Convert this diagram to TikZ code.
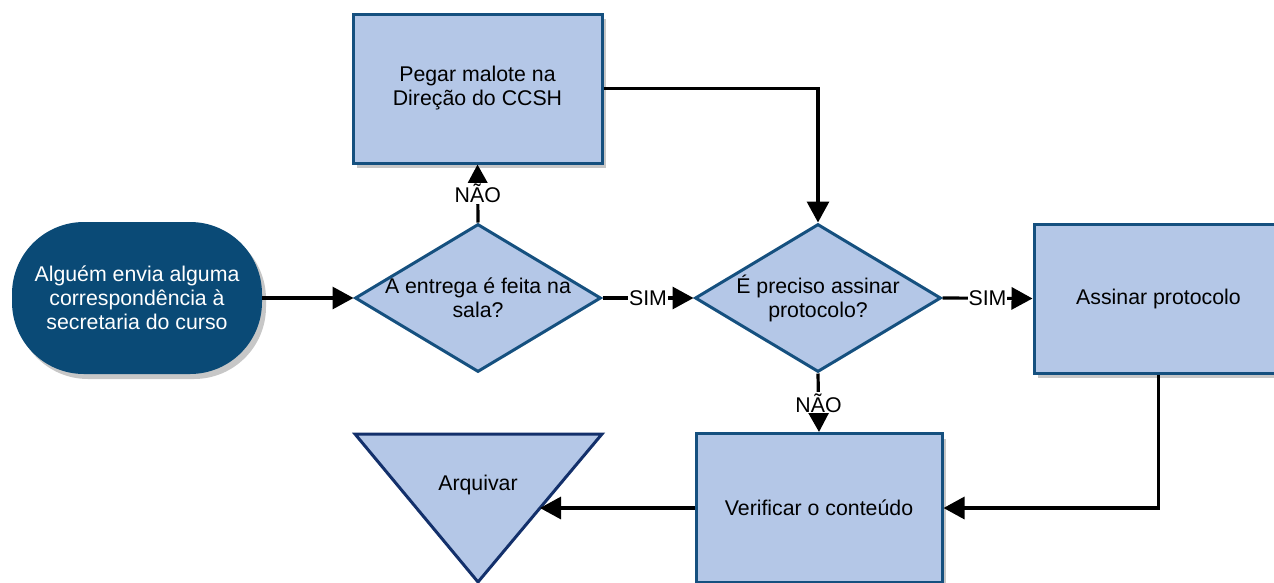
\documentclass[tikz,border=0pt]{standalone}
\usepackage{fontspec}
\setmainfont{Liberation Sans}
\usetikzlibrary{arrows.meta,shadows,shapes.geometric,calc}
\definecolor{boxfill}{HTML}{B4C7E7}
\definecolor{boxdraw}{HTML}{15507F}
\definecolor{startfill}{HTML}{0A4A76}
\definecolor{tridraw}{HTML}{13306B}
\begin{document}
\begin{tikzpicture}[x=1pt,y=-1pt,
  font=\fontsize{21.3}{24}\selectfont,
  shad/.style={drop shadow={shadow xshift=4pt, shadow yshift=-5pt, fill=black, opacity=0.22}},
  procbox/.style={draw=boxdraw, fill=boxfill, line width=3pt, minimum width=249pt, minimum height=149pt, align=center, shad},
  startbox/.style={draw=none, fill=startfill, text=white, rounded corners=72pt, minimum width=250pt, minimum height=152pt, align=center, shad},
  dia/.style={diamond, draw=boxdraw, fill=boxfill, line width=3pt, minimum width=246pt, minimum height=148pt, inner sep=0pt},
  tri/.style={draw=tridraw, fill=boxfill, line width=3pt, line join=miter},
  conn/.style={line width=3.2pt, draw=black, -{Triangle[length=21pt,width=22pt]}},
  lbl/.style={fill=white, inner sep=1pt, midway}
]
\useasboundingbox (0,0) rectangle (1274,582);

\node[startbox] (start) at (137,298) {Alguém envia alguma\\correspondência à\\secretaria do curso};
\node[dia, label={[align=center]center:A entrega é feita na\\sala?}] (d1) at (478,298) {};
\node[procbox] (r1) at (477.5,88.5) {Pegar malote na\\Direção do CCSH};
\node[dia, label={[align=center]center:É preciso assinar\\protocolo?}] (d2) at (818,298) {};
\node[procbox] (a) at (1158.5,298.5) {Assinar protocolo};
\node[procbox, minimum width=246pt] (v) at (819,508) {Verificar o conteúdo};

\coordinate (tA) at (355,434);
\coordinate (tB) at (602,434);
\coordinate (tC) at (478,582);
\draw[tri] (tA) -- (tB) -- (tC) -- cycle;
\node (arq) at (478,485) {Arquivar};
\coordinate (arqR) at ($(tB)!0.5!(tC)$);

\draw[conn] (start.east) -- (d1.west);
\draw[conn] (d1.north) -- node[lbl] {NÃO} (r1.south);
\draw[conn] (d1.east) -- node[lbl] {SIM} (d2.west);
\draw[conn] (r1.east) -| (d2.north);
\draw[conn] (d2.east) -- node[lbl] {SIM} (a.west);
\draw[conn] (d2.south) -- node[lbl] {NÃO} (v.north);
\draw[conn] (a.south) |- (v.east);
\draw[conn] (v.west) -- (arqR);
\end{tikzpicture}
\end{document}
